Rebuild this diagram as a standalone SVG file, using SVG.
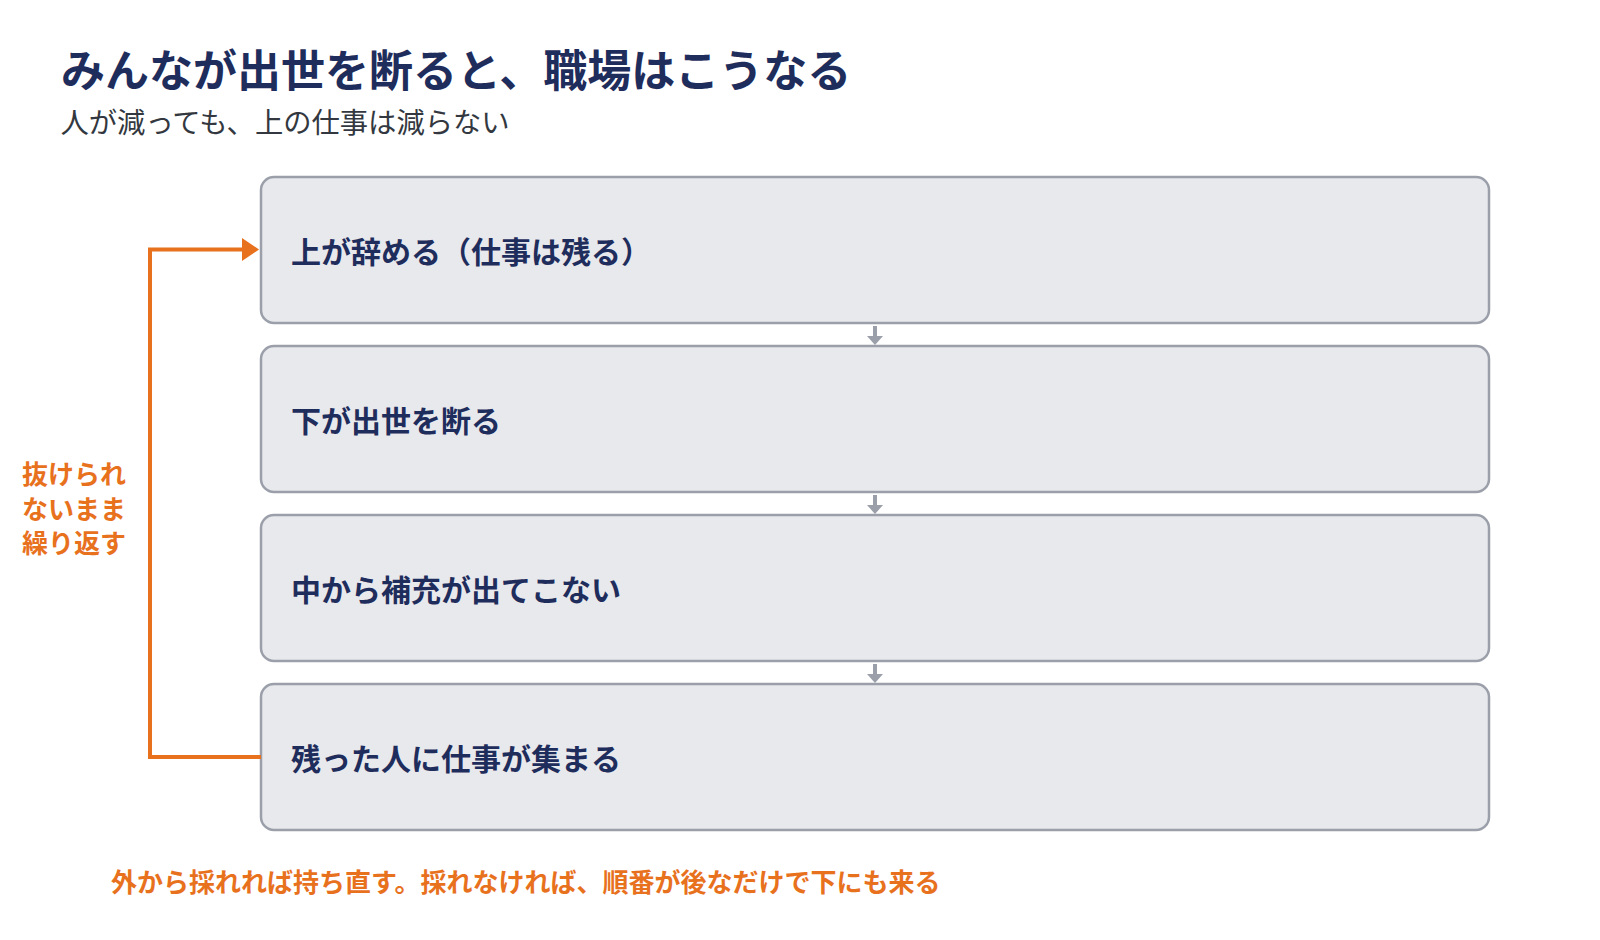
<svg xmlns="http://www.w3.org/2000/svg" width="1600" height="940" viewBox="0 0 1600 940">
<defs>
<style>
text{font-family:"Noto Sans CJK JP","Noto Sans",sans-serif;}
.title{font-size:44px;font-weight:700;fill:#1f2d5c;}
.sub{font-size:28.3px;font-weight:400;fill:#333840;}
.box{fill:#e8e9ed;stroke:#9a9fa9;stroke-width:2.5;}
.lbl{font-size:30px;font-weight:700;fill:#1f2d5c;}
.or{font-weight:700;fill:#e8711e;}
.loop{fill:none;stroke:#e8711e;stroke-width:4;}
.dn{stroke:#9a9fa9;stroke-width:4;}
.dnh{fill:#9a9fa9;}
</style>
</defs>
<rect width="1600" height="940" fill="#ffffff"/>
<g id="header">
<text class="title" x="61" y="86.5">みんなが出世を断ると、職場はこうなる</text>
<text class="sub" x="60.5" y="132.5">人が減っても、上の仕事は減らない</text>
</g>
<g id="node1"><rect class="box" x="261" y="177" width="1228" height="146" rx="13"/><text class="lbl" x="291" y="262.5">上が辞める（仕事は残る）</text></g>
<g id="node2"><rect class="box" x="261" y="346" width="1228" height="146" rx="13"/><text class="lbl" x="291" y="431.5">下が出世を断る</text></g>
<g id="node3"><rect class="box" x="261" y="515" width="1228" height="146" rx="13"/><text class="lbl" x="291" y="600.5">中から補充が出てこない</text></g>
<g id="node4"><rect class="box" x="261" y="684" width="1228" height="146" rx="13"/><text class="lbl" x="291" y="769.5">残った人に仕事が集まる</text></g>
<g id="connectors">
<line class="dn" x1="875" y1="326" x2="875" y2="337"/><polygon class="dnh" points="867,336 883,336 875,345"/>
<line class="dn" x1="875" y1="495" x2="875" y2="506"/><polygon class="dnh" points="867,505 883,505 875,514"/>
<line class="dn" x1="875" y1="664" x2="875" y2="675"/><polygon class="dnh" points="867,674 883,674 875,683"/>
<polyline class="loop" points="261,757 150,757 150,249.5 243,249.5"/>
<polygon fill="#e8711e" points="242,238 259,249.5 242,261"/>
</g>
<g id="loop-label">
<text class="or" font-size="26" x="22" y="484">抜けられ</text>
<text class="or" font-size="26" x="22" y="518.5">ないまま</text>
<text class="or" font-size="26" x="22" y="553">繰り返す</text>
</g>
<g id="footer">
<text class="or" font-size="26" x="111" y="892">外から採れれば持ち直す。採れなければ、順番が後なだけで下にも来る</text>
</g>
</svg>
